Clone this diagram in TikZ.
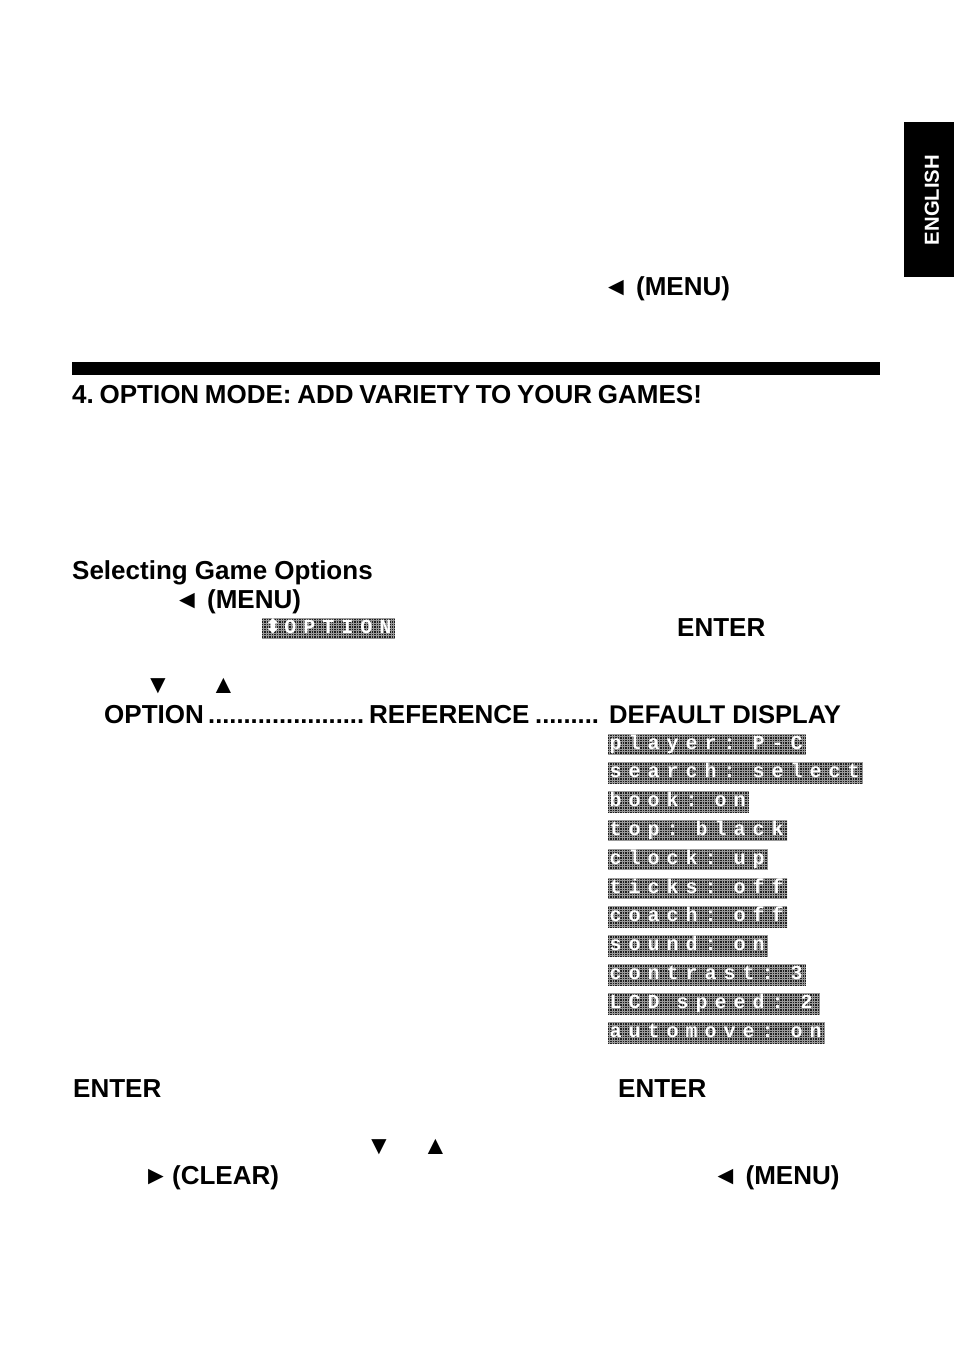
\documentclass[tikz,border=0pt]{standalone}
\usepackage{fontspec}
\setmainfont{Liberation Sans}
\newfontfamily\lcdfont[LetterSpace=35]{Liberation Mono}
\newfontfamily\arrowfont{DejaVu Sans}
\usetikzlibrary{calc,positioning}
\frenchspacing
% lcd read-out with a dot raster behind its text
\newcommand{\Lcd}[5]{
  \node[lnode] (#1) at (#2,#3) {\makebox[#4][l]{\spaceskip=17pt\relax #5}};
}

\begin{document}
\begin{tikzpicture}[x=1pt, y=-1pt]
    \tikzstyle{tnode} = [anchor=base west, inner sep=0pt, font=\fontsize{26}{30}\selectfont\bfseries]
    \tikzstyle{lgrid} = [line width=0.5pt, draw=black!40, step=2.5pt]
    \tikzstyle{lnode} = [anchor=west, fill=black!88, text=white, inner xsep=1.5pt, inner ysep=2pt, text height=13pt, text depth=4pt, font=\fontsize{20}{20}\lcdfont\bfseries,
      path picture={\draw[lgrid] (path picture bounding box.south west) grid (path picture bounding box.north east);}]
    \useasboundingbox (0,0) rectangle (954,1345);

    % side tab
    \node[fill=black, minimum width=50pt, minimum height=155pt, inner sep=0pt] (tab) at (929,199.5) {};
    \node[rotate=90, text=white, inner sep=0pt, font=\fontsize{20.3}{20}\selectfont\bfseries] (english) at (932,200) {ENGLISH};

    % top of page
    \node[tnode] (menu0) at (603,295) {◄ (MENU)};
    \fill[black] (72,362) rectangle (880,375);
    \node[tnode] (title) at (72,403) {\spaceskip=5.7pt 4. OPTION MODE: ADD VARIETY TO YOUR GAMES!};

    % selecting options
    \node[tnode] (select) at (72,579) {Selecting Game Options};
    \node[tnode] (menu1) at (174,608) {◄ (MENU)};
    \Lcd{optbox}{262}{628.5}{130pt}{{\arrowfont\hspace{1pt}⬍\hspace{3pt}}OPTION}
    \node[tnode] (enter0) at (677,636) {ENTER};
    \node[tnode] (down0) at (145,693) {▼};
    \node[tnode] (up0) at (210.5,693) {▲};

    % table head
    \node[tnode] (option) at (104,723) {OPTION};
    \node[tnode, font=\fontsize{25.5}{30}\selectfont\bfseries] (dots0) at (208,723) {......................};
    \node[tnode] (refer) at (369,723) {REFERENCE};
    \node[tnode, font=\fontsize{25.5}{30}\selectfont\bfseries] (dots1) at (535,723) {.........};
    \node[tnode, font=\fontsize{25.6}{30}\selectfont\bfseries] (display) at (609,723) {DEFAULT DISPLAY};

    % default displays
    \Lcd{l01}{608}{744.5}{195pt}{player: P-C}
    \Lcd{l02}{608}{773}{252pt}{search: select}
    \Lcd{l03}{608}{802}{138pt}{book: on}
    \Lcd{l04}{608}{830.5}{176pt}{top: black}
    \Lcd{l05}{608}{859.5}{157pt}{clock: up}
    \Lcd{l06}{608}{888.5}{176pt}{ticks: off}
    \Lcd{l07}{608}{917}{176pt}{coach: off}
    \Lcd{l08}{608}{946}{157pt}{sound: on}
    \Lcd{l09}{608}{975}{195pt}{contrast: 3}
    \Lcd{l10}{608}{1004}{209pt}{LCD speed: 2}
    \Lcd{l11}{608}{1033}{214pt}{automove: on}

    % bottom lines
    \node[tnode] (enter1) at (73,1097) {ENTER};
    \node[tnode] (enter2) at (618,1097) {ENTER};
    \node[tnode] (down1) at (366,1154) {▼};
    \node[tnode] (up1) at (422.5,1154) {▲};
    \node[tnode] (clear) at (143,1184) {►\hspace{-4pt} (CLEAR)};
    \node[tnode] (menu2) at (712.5,1184) {◄ (MENU)};
\end{tikzpicture}
\end{document}
